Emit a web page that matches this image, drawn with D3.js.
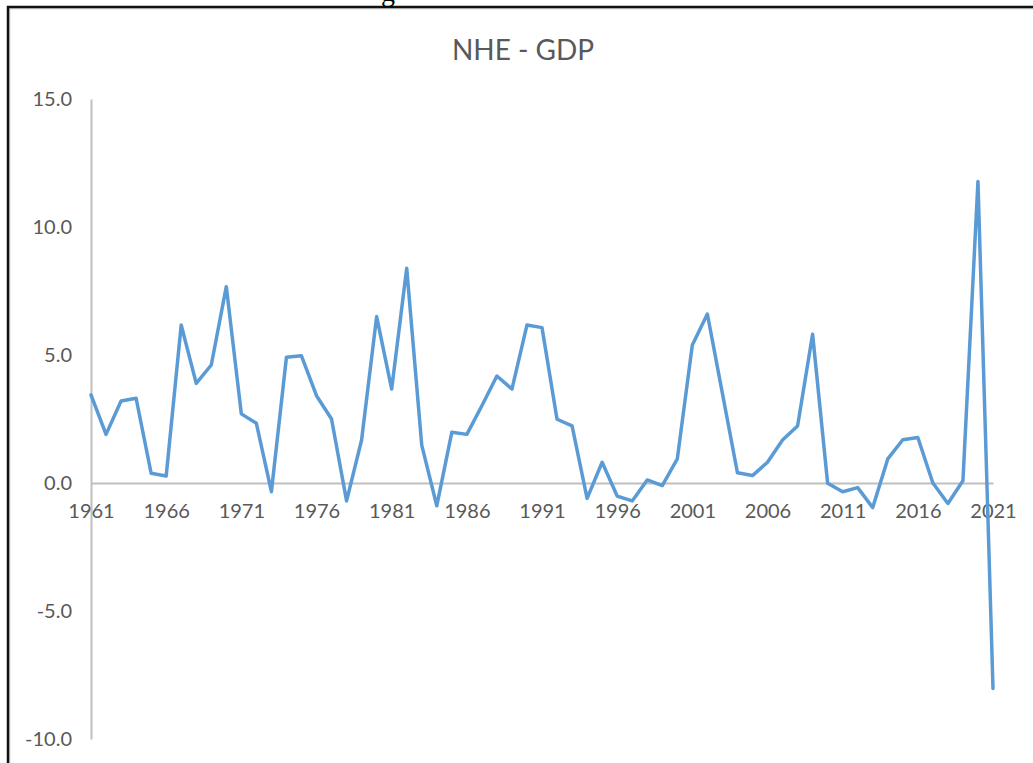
<!DOCTYPE html>
<html>
<head>
<meta charset="utf-8">
<script src="https://cdn.jsdelivr.net/npm/d3@7"></script>
<style>
  html, body { margin: 0; padding: 0; background: #fff; }
  svg { display: block; }
</style>
</head>
<body>
<svg id="chart" width="1033" height="763"></svg>
<script>
// NHE growth minus GDP growth, percentage points, 1961–2021
const years = d3.range(1961, 2022);
const values = [
  3.44, 1.90, 3.20, 3.31, 0.38, 0.27, 6.17, 3.89, 4.61, 7.67,
  2.70, 2.33, -0.34, 4.91, 4.97, 3.41, 2.50, -0.70, 1.68, 6.50,
  3.67, 8.39, 1.48, -0.89, 1.98, 1.90, 3.02, 4.18, 3.67, 6.17,
  6.07, 2.49, 2.23, -0.60, 0.81, -0.51, -0.70, 0.12, -0.10, 0.94,
  5.39, 6.60, 3.50, 0.40, 0.29, 0.81, 1.68, 2.23, 5.81, -0.01,
  -0.34, -0.18, -0.96, 0.94, 1.69, 1.78, 0.00, -0.80, 0.09, 11.78,
  -8.03
];
const yTicks = [-10, -5, 0, 5, 10, 15];
const xTickYears = d3.range(1961, 2022, 5);
const title = "NHE - GDP";

const svg = d3.select("#chart");
const textColor = "#595959";
const axisColor = "#bfbfbf";
const lineColor = "#5b9bd5";
const font = "Lato, 'Open Sans', sans-serif";

// frame of the surrounding page
svg.append("rect").attr("x", 9).attr("y", 8).attr("width", 1030).attr("height", 760)
  .attr("fill", "none").attr("stroke", "#d9d9d9").attr("stroke-width", 3);
svg.append("path").attr("d", "M8,763V7H1033")
  .attr("fill", "none").attr("stroke", "#111").attr("stroke-width", 2.5);

// descender of a caption line cut off above the frame
svg.append("text").attr("x", 381).attr("y", 1)
  .attr("font-family", "'Liberation Serif', serif").attr("font-size", 28)
  .attr("fill", "#000").text("g");

const x = d3.scaleLinear().domain([1961, 2021]).range([91, 993]);
const y = d3.scaleLinear().domain([-10, 15]).range([739, 99]);

// title
svg.append("text")
  .attr("x", 523).attr("y", 60)
  .attr("text-anchor", "middle")
  .attr("font-family", font).attr("font-size", 28)
  .attr("fill", textColor)
  .text(title);

// value axis (plain hyphen for negatives)
const yAxis = svg.append("g")
  .attr("transform", `translate(${x(1961)},0)`)
  .call(d3.axisLeft(y).tickValues(yTicks).tickFormat(d => d.toFixed(1))
    .tickSize(0).tickPadding(19));
yAxis.select(".domain").attr("stroke", axisColor).attr("stroke-width", 2);
yAxis.selectAll("text").attr("font-family", font).attr("font-size", 20).attr("fill", textColor);

// category axis along zero
const xAxis = svg.append("g")
  .attr("transform", `translate(0,${y(0)})`)
  .call(d3.axisBottom(x).tickValues(xTickYears).tickFormat(d3.format("d"))
    .tickSize(0).tickPadding(21));
xAxis.select(".domain").attr("stroke", axisColor).attr("stroke-width", 2);
xAxis.selectAll("text").attr("font-family", font).attr("font-size", 20).attr("fill", textColor);

// series line
const line = d3.line().x((d, i) => x(years[i])).y(d => y(d));
svg.append("path")
  .datum(values)
  .attr("d", line)
  .attr("fill", "none")
  .attr("stroke", lineColor)
  .attr("stroke-width", 3.5)
  .attr("stroke-linejoin", "round")
  .attr("stroke-linecap", "round");
</script>
</body>
</html>
